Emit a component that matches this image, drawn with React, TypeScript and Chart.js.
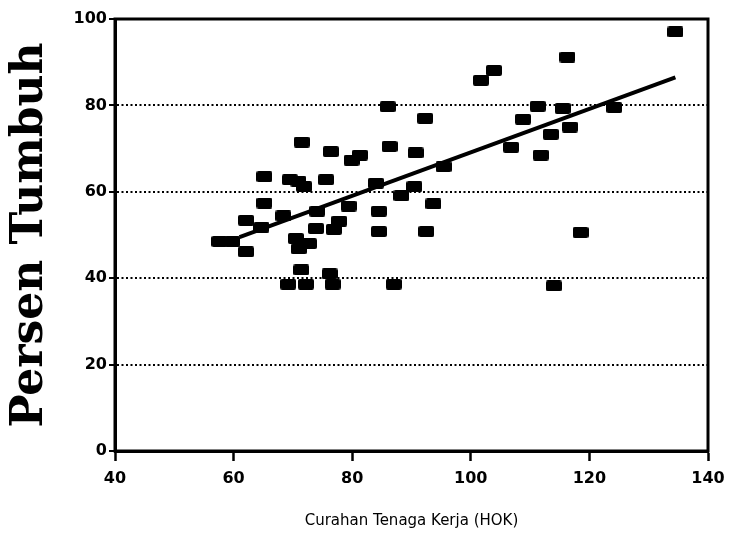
import { useEffect, useRef } from "react";
import { Chart, registerables } from "chart.js";

Chart.register(...registerables);

// Curahan tenaga kerja (HOK) for each observation
const laborX = [
  57.6, 59.8, 62.1, 62.1, 64.7, 65.2, 65.2, 68.4, 69.5, 70.9,
  71.9, 71.5, 76.4, 75.6, 70.5, 71.0, 72.7, 73.9, 74.1, 71.4,
  69.2, 72.2, 76.2, 76.7, 86.0, 92.3, 79.9, 81.3, 86.3, 90.7,
  84.0, 95.4, 88.3, 90.5, 93.7, 84.5, 79.4, 77.8, 84.5, 92.5,
  76.9, 87.0, 101.7, 103.9, 116.3, 111.3, 115.5, 108.8, 113.5, 116.7,
  106.8, 111.8, 124.2, 118.5, 114.0, 134.5,
];
// Persen tumbuh for each observation
const growthY = [
  48.5, 48.5, 46.1, 53.4, 51.8, 57.4, 63.5, 54.4, 62.8, 62.5,
  61.2, 71.5, 69.3, 62.8, 49.2, 46.8, 48.0, 51.5, 55.5, 41.9,
  38.6, 38.6, 41.0, 38.6, 79.7, 77.0, 67.3, 68.5, 70.5, 69.0,
  62.0, 65.8, 59.1, 61.2, 57.2, 55.5, 56.7, 53.2, 50.8, 50.8,
  51.3, 38.6, 85.8, 88.1, 91.2, 79.8, 79.3, 76.8, 73.3, 75.0,
  70.3, 68.5, 79.5, 50.6, 38.2, 97.0,
];
// regression line end points
const trendX = [61, 134.5];
const trendY = [49.5, 86.5];

const xTicks = [40, 60, 80, 100, 120, 140];
const yTicks = [0, 20, 40, 60, 80, 100];

const xTitle = "Curahan Tenaga Kerja (HOK)";
const yTitle = "Persen Tumbuh";

function makeMarker(): HTMLCanvasElement {
  const c = document.createElement("canvas");
  c.width = 16;
  c.height = 11;
  const g = c.getContext("2d")!;
  g.fillStyle = "#000";
  g.beginPath();
  if ((g as any).roundRect) (g as any).roundRect(0, 0, 16, 11, 2);
  else g.rect(0, 0, 16, 11);
  g.fill();
  return c;
}

const framePlugin = {
  id: "frame",
  afterDraw(chart: any) {
    const { ctx, chartArea } = chart;
    const { left, top, right, bottom } = chartArea;
    ctx.save();
    ctx.strokeStyle = "#000";
    ctx.lineWidth = 3;
    ctx.strokeRect(left, top, right - left, bottom - top);
    ctx.restore();
  },
};

export default function App() {
  const ref = useRef<HTMLCanvasElement>(null);

  useEffect(() => {
    document.body.style.margin = "0";
    const canvas = ref.current!;
    const marker = makeMarker();
    const points = laborX.map((x, i) => ({ x, y: growthY[i] }));
    const trend = trendX.map((x, i) => ({ x, y: trendY[i] }));

    const chart = new Chart(canvas, {
      type: "scatter",
      data: {
        datasets: [
          {
            type: "line",
            data: trend,
            borderColor: "#000",
            borderWidth: 4,
            pointRadius: 0,
            fill: false,
          } as any,
          {
            data: points,
            pointStyle: marker as any,
            pointRadius: 8,
            backgroundColor: "#000",
            borderColor: "#000",
          },
        ],
      },
      options: {
        responsive: false,
        animation: false,
        devicePixelRatio: 1,
        layout: { padding: { top: 19, right: 21, left: 0, bottom: 0 } },
        plugins: { legend: { display: false }, tooltip: { enabled: false } },
        scales: {
          x: {
            type: "linear",
            min: 40,
            max: 140,
            afterBuildTicks: (s: any) => {
              s.ticks = xTicks.map((v) => ({ value: v }));
            },
            afterFit: (s: any) => {
              s.height = 83;
              s.paddingRight = 0;
            },
            grid: {
              drawOnChartArea: false,
              drawTicks: true,
              tickLength: 10,
              tickColor: "#000",
              tickWidth: 2.5,
            },
            border: { display: true, color: "#000", width: 3 },
            ticks: {
              color: "#000",
              padding: 8,
              font: { family: "DejaVu Sans", size: 16, weight: "bold" },
            },
            title: {
              display: true,
              text: xTitle,
              color: "#000",
              padding: { top: 0, bottom: 4 },
              font: { family: "DejaVu Sans", size: 15 },
            },
          },
          y: {
            type: "linear",
            min: 0,
            max: 100,
            afterBuildTicks: (s: any) => {
              s.ticks = yTicks.map((v) => ({ value: v }));
            },
            afterFit: (s: any) => {
              s.width = 115;
            },
            grid: {
              drawOnChartArea: true,
              drawTicks: true,
              tickLength: 6,
              color: "#000",
              lineWidth: 2,
              tickColor: "#000",
              tickWidth: 2,
              tickBorderDash: [],
            } as any,
            border: { display: true, color: "#000", width: 3, dash: [2, 2.5] },
            ticks: {
              color: "#000",
              padding: 2,
              font: { family: "DejaVu Sans", size: 16, weight: "bold" },
            },
            title: {
              display: true,
              text: yTitle,
              color: "#000",
              padding: { top: 4, bottom: 0 },
              font: { family: "DejaVu Serif", size: 44, weight: "bold" },
            },
          },
        },
      },
      plugins: [framePlugin],
    });
    return () => chart.destroy();
  }, []);

  return (
    <div style={{ width: 729, height: 534 }}>
      <canvas ref={ref} width={729} height={534} />
    </div>
  );
}
